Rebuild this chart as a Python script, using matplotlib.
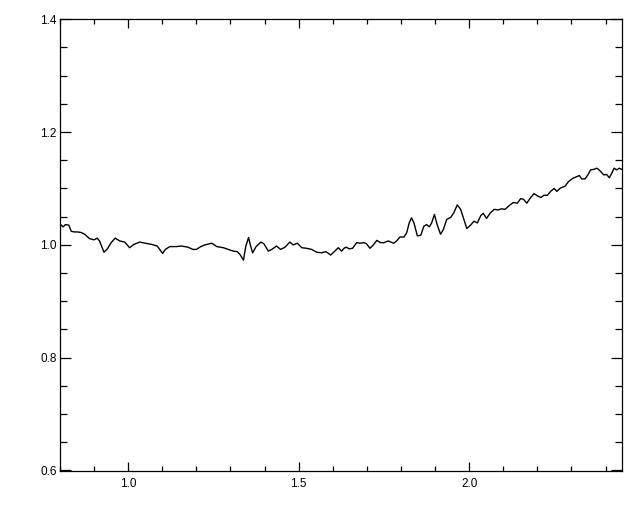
import matplotlib
matplotlib.use("Agg")
import matplotlib.pyplot as plt
from matplotlib.ticker import MultipleLocator, FormatStrFormatter

x = [0.802, 0.809, 0.816, 0.826, 0.833, 0.843, 0.851, 0.862, 0.872, 0.887,
     0.900, 0.909, 0.916, 0.929, 0.939, 0.950, 0.962, 0.975, 0.990, 1.004,
     1.017, 1.034, 1.050, 1.068, 1.085, 1.101, 1.109, 1.122, 1.141, 1.156,
     1.175, 1.190, 1.200, 1.213, 1.225, 1.245, 1.260, 1.279, 1.294, 1.308,
     1.320, 1.328, 1.338, 1.345, 1.353, 1.359, 1.365, 1.375, 1.389, 1.398,
     1.411, 1.421, 1.435, 1.447, 1.460, 1.474, 1.484, 1.496, 1.509, 1.523,
     1.538, 1.553, 1.567, 1.580, 1.594, 1.606, 1.616, 1.626, 1.633, 1.639,
     1.648, 1.658, 1.670, 1.680, 1.691, 1.699, 1.709, 1.719, 1.729, 1.740,
     1.750, 1.763, 1.770, 1.779, 1.787, 1.797, 1.809, 1.817, 1.824, 1.831,
     1.838, 1.848, 1.858, 1.867, 1.875, 1.883, 1.890, 1.898, 1.906, 1.916,
     1.924, 1.934, 1.946, 1.955, 1.965, 1.975, 1.983, 1.993, 2.004, 2.014,
     2.024, 2.034, 2.041, 2.051, 2.061, 2.073, 2.085, 2.095, 2.105, 2.118,
     2.129, 2.141, 2.151, 2.159, 2.169, 2.178, 2.190, 2.200, 2.210, 2.219,
     2.229, 2.239, 2.249, 2.257, 2.268, 2.281, 2.291, 2.304, 2.315, 2.323,
     2.330, 2.340, 2.349, 2.356, 2.366, 2.374, 2.381, 2.389, 2.395, 2.403,
     2.411, 2.418, 2.425, 2.433, 2.440, 2.447]

y = [1.036, 1.032, 1.036, 1.035, 1.024, 1.023, 1.023, 1.022, 1.019, 1.011,
     1.009, 1.012, 1.007, 0.987, 0.993, 1.004, 1.012, 1.007, 1.005, 0.995,
     1.001, 1.005, 1.003, 1.001, 0.998, 0.985, 0.992, 0.997, 0.997, 0.998,
     0.996, 0.992, 0.992, 0.997, 1.000, 1.003, 0.997, 0.995, 0.992, 0.989,
     0.988, 0.983, 0.973, 0.998, 1.013, 0.998, 0.986, 0.997, 1.005, 1.002,
     0.989, 0.992, 0.998, 0.992, 0.996, 1.005, 1.000, 1.003, 0.995, 0.994,
     0.992, 0.987, 0.986, 0.988, 0.982, 0.989, 0.995, 0.989, 0.994, 0.996,
     0.993, 0.994, 1.004, 1.003, 1.004, 1.002, 0.994, 1.000, 1.008, 1.004,
     1.004, 1.007, 1.005, 1.003, 1.007, 1.014, 1.014, 1.022, 1.039, 1.048,
     1.039, 1.016, 1.017, 1.033, 1.036, 1.032, 1.039, 1.054, 1.036, 1.019,
     1.027, 1.045, 1.049, 1.057, 1.071, 1.063, 1.048, 1.029, 1.035, 1.042,
     1.039, 1.052, 1.056, 1.047, 1.056, 1.063, 1.062, 1.064, 1.063, 1.070,
     1.075, 1.074, 1.082, 1.081, 1.074, 1.082, 1.091, 1.087, 1.084, 1.088,
     1.088, 1.095, 1.100, 1.095, 1.101, 1.104, 1.112, 1.118, 1.121, 1.123,
     1.117, 1.117, 1.125, 1.133, 1.134, 1.136, 1.133, 1.128, 1.124, 1.125,
     1.119, 1.127, 1.136, 1.133, 1.136, 1.134]

xlim = (0.8, 2.449)
ylim = (0.6, 1.4)

plt.rcParams['font.family'] = ['Liberation Sans', 'DejaVu Sans']

fig = plt.figure(figsize=(6.4, 5.12), dpi=100)
ax = fig.add_axes([60/640, 1 - 470.5/512, (622.3 - 60)/640, (470.5 - 19.3)/512])

ax.plot(x, y, color='black', linewidth=1.0)
ax.set_xlim(*xlim)
ax.set_ylim(*ylim)

ax.xaxis.set_major_locator(MultipleLocator(0.5))
ax.xaxis.set_minor_locator(MultipleLocator(0.1))
ax.yaxis.set_major_locator(MultipleLocator(0.2))
ax.yaxis.set_minor_locator(MultipleLocator(0.05))
ax.xaxis.set_major_formatter(FormatStrFormatter('%.1f'))
ax.yaxis.set_major_formatter(FormatStrFormatter('%.1f'))

for s in ax.spines.values():
    s.set_linewidth(0.9)

ax.tick_params(axis='x', which='both', direction='in', top=True, bottom=True,
               labelsize=8.5, pad=5.5, width=0.9)
ax.tick_params(axis='y', which='both', direction='in', left=True, right=True,
               labelsize=8.5, pad=2.5, width=0.9)
ax.tick_params(axis='x', which='major', length=6.7)
ax.tick_params(axis='x', which='minor', length=3.6)
ax.tick_params(axis='y', which='major', length=8)
ax.tick_params(axis='y', which='minor', length=5)

fig.savefig('out.png', dpi=100)
